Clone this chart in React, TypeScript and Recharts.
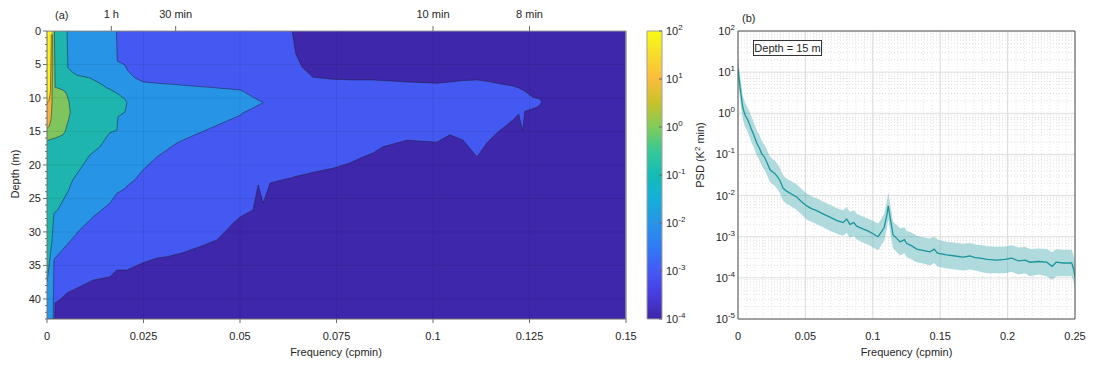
import React from "react";
import {
  ComposedChart,
  Area,
  Line,
  XAxis,
  YAxis,
  CartesianGrid,
  ReferenceLine,
  ReferenceArea,
} from "recharts";

const FONT = '"Liberation Sans", Arial, Helvetica, sans-serif';
const INK = "#262626";
const AXIS = "#6e6e6e";

// ---------- panel (a): filled contours, each band is a [top, bottom] depth range per frequency
const bgFreq = [0, 0.15];
const bgTop = [0, 0];
const bgBottom = [43, 43];

// 1e-3 .. 1e-2
const blueFreq = [
  0, 0.002, 0.0021, 0.0034, 0.0052, 0.0085, 0.0119, 0.0163, 0.0181, 0.0207,
  0.0249, 0.0285, 0.0311, 0.0352, 0.0396, 0.044, 0.0466, 0.0482, 0.05, 0.0534,
  0.0547, 0.056, 0.0578, 0.0611, 0.0635, 0.0645, 0.0661, 0.0689, 0.0741, 0.0785,
  0.0811, 0.0845, 0.087, 0.0933, 0.101, 0.1044, 0.1078, 0.1114, 0.114, 0.1166,
  0.1207, 0.1222, 0.1232, 0.1238, 0.1259, 0.1275, 0.1282,
];
const blueTop = [
  0, 0, 0, 0, 0, 0, 0, 0, 0, 0,
  0, 0, 0, 0, 0, 0, 0, 0, 0, 0,
  0, 0, 0, 0, 0, 3.5, 5.4, 6.9, 7.2, 7.3,
  7.3, 7.3, 7.4, 7.6, 7.8, 7.6, 7.4, 7.3, 7.5, 7.8,
  8.2, 8.5, 8.8, 9.0, 9.9, 10.1, 10.6,
];
const blueBottom = [
  43, 43, 40.6, 40.1, 39.1, 38.2, 37.2, 36.7, 35.7, 35.7,
  34.6, 33.9, 33.7, 33.1, 32.2, 31.2, 29.7, 28.7, 27.8, 26.7,
  23.0, 25.7, 22.7, 22.2, 21.9, 21.7, 21.5, 21.1, 20.5, 19.7,
  19.0, 18.2, 17.3, 16.3, 16.6, 15.5, 16.3, 18.8, 16.7, 15.2,
  13.3, 12.4, 14.9, 12.0, 11.6, 11.2, 10.6,
];

// 1e-2 .. 1e-1
const lightFreq = [
  0, 0.0016, 0.0018, 0.0021, 0.0052, 0.0085, 0.0119, 0.0163, 0.018, 0.0182,
  0.02, 0.021, 0.0228, 0.0249, 0.0285, 0.0337, 0.0352, 0.0396, 0.042, 0.05,
  0.0508, 0.0534, 0.056,
];
const lightTop = [
  0, 0, 0, 0, 0, 0, 0, 0, 0, 4.5,
  5.0, 6.0, 7.0, 7.6, 7.8, 8.0, 8.1, 8.3, 8.4, 8.8,
  9.0, 9.9, 10.7,
];
const lightBottom = [
  43, 43, 34.2, 33.9, 31.9, 29.7, 27.8, 25.7, 24.3, 24.2,
  23.6, 23.0, 22.2, 20.7, 18.8, 16.7, 16.3, 15.2, 14.6, 12.6,
  12.2, 11.5, 10.7,
];

// 1e-1 .. 1e0
const tealFreq = [
  0, 0.0005, 0.0013, 0.0018, 0.0028, 0.0052, 0.0054, 0.0067, 0.0078, 0.0085,
  0.0111, 0.0137, 0.0155, 0.0163, 0.0181, 0.0184, 0.0202, 0.0207,
];
const tealTop = [0, 0, 0, 0, 0, 0, 5.5, 6.2, 6.6, 6.7, 7.0, 7.8, 8.5, 8.7, 9.3, 9.4, 10.2, 10.7];
const tealBottom = [
  37.5, 35.2, 31.2, 27.2, 26.7, 24.2, 24.0, 22.2, 21.3, 20.7,
  18.5, 17.3, 15.8, 15.2, 14.8, 12.8, 12.1, 10.7,
];

// 1e0 .. 1e1
const greenFreq = [0, 0.0003, 0.0014, 0.0019, 0.0021, 0.0041, 0.0047, 0.0052, 0.0057, 0.006];
const greenTop = [0, 0, 0, 0, 8.4, 8.8, 9.1, 9.6, 10.6, 12.1];
const greenBottom = [16.5, 16.3, 16.1, 16.0, 16.0, 15.5, 15.0, 14.0, 13.0, 12.1];

// 1e1 .. 1e2
const orangeFreq = [0, 0.0006, 0.0011, 0.0013, 0.0014];
const orangeTop = [0, 0, 0, 0, 0];
const orangeBottom = [14.5, 14.2, 13.0, 10.5, 0.5];

// > 1e2
const yellowFreq = [0, 0.0005, 0.0009, 0.0011];
const yellowTop = [0, 0, 0, 0];
const yellowBottom = [10.8, 10.4, 9.0, 0.5];

const freqTicksA = [0, 0.025, 0.05, 0.075, 0.1, 0.125, 0.15];
const periodTickValues = [1 / 60, 1 / 30, 0.1, 0.125];
const periodTickLabels = ["1 h", "30 min", "10 min", "8 min"];
const depthTicks = Array.from({ length: 44 }, (_, i) => i);
const gridDepths = [5, 10, 15, 20, 25, 30, 35, 40];

// ---------- panel (b): PSD at 15 m with confidence band
const psdFreq = [
  0, 0.0015, 0.0035, 0.0052, 0.0074, 0.0102, 0.012, 0.0139, 0.016, 0.0176,
  0.02, 0.0218, 0.0237, 0.0255, 0.0274, 0.0295, 0.0312, 0.0334, 0.036, 0.04,
  0.0435, 0.047, 0.051, 0.0545, 0.0584, 0.063, 0.0682, 0.073, 0.078, 0.0806,
  0.083, 0.086, 0.088, 0.0927, 0.097, 0.1001, 0.1039, 0.106, 0.1085, 0.1103,
  0.1115, 0.1128, 0.115, 0.118, 0.1202, 0.1235, 0.1251, 0.129, 0.1326, 0.138,
  0.1424, 0.1455, 0.148, 0.1548, 0.161, 0.1669, 0.172, 0.176, 0.1795, 0.185,
  0.1919, 0.198, 0.203, 0.208, 0.213, 0.2166, 0.223, 0.229, 0.233, 0.236,
  0.2411, 0.2476, 0.249, 0.25,
];
const psdValue = [
  12, 4.4, 1.4, 0.92, 0.68, 0.39, 0.28, 0.19, 0.14, 0.105,
  0.082, 0.06, 0.043, 0.038, 0.034, 0.028, 0.023, 0.0152, 0.0128, 0.0108,
  0.0092, 0.0072, 0.0056, 0.0048, 0.0043, 0.0036, 0.003, 0.0025, 0.0022, 0.0027,
  0.002, 0.0022, 0.0018, 0.00155, 0.00135, 0.00118, 0.001, 0.00125, 0.0017, 0.0032,
  0.0056, 0.003, 0.0011, 0.0009, 0.00075, 0.00085, 0.00068, 0.0006, 0.0005, 0.00046,
  0.00043, 0.0005, 0.0004, 0.00036, 0.00034, 0.00032, 0.00034, 0.00031, 0.0003, 0.00028,
  0.00027, 0.00028, 0.0003, 0.00026, 0.00027, 0.00024, 0.00025, 0.00024, 0.00019, 0.00024,
  0.00023, 0.00023, 0.00016, 0.000105,
];
const psdLower = [
  6, 2.2, 0.72, 0.47, 0.34, 0.19, 0.14, 0.095, 0.07, 0.052,
  0.04, 0.03, 0.021, 0.019, 0.017, 0.0138, 0.0113, 0.0075, 0.0063, 0.0053,
  0.0045, 0.0035, 0.0026, 0.0023, 0.002, 0.0017, 0.0014, 0.0012, 0.00105, 0.00125,
  0.00095, 0.00105, 0.00085, 0.00072, 0.00063, 0.00055, 0.00047, 0.0006, 0.0008, 0.0015,
  0.0026, 0.0014, 0.00052, 0.00042, 0.00035, 0.0004, 0.00032, 0.00028, 0.00024, 0.00022,
  0.0002, 0.00023, 0.00019, 0.00017, 0.00016, 0.00015, 0.00016, 0.00015, 0.00014, 0.00013,
  0.00013, 0.00013, 0.00014, 0.00012, 0.00013, 0.00011, 0.00012, 0.00011, 0.00009, 0.00011,
  0.00011, 0.00011, 0.00008, 0.00005,
];
const psdUpper = [
  22, 8.5, 2.7, 1.8, 1.35, 0.8, 0.56, 0.39, 0.29, 0.215,
  0.165, 0.122, 0.088, 0.078, 0.069, 0.057, 0.047, 0.031, 0.026, 0.022,
  0.0185, 0.0146, 0.0112, 0.0096, 0.0086, 0.0072, 0.006, 0.005, 0.0044, 0.0052,
  0.004, 0.0044, 0.0036, 0.0031, 0.0027, 0.0024, 0.0021, 0.0026, 0.0036, 0.0068,
  0.012, 0.0064, 0.0023, 0.0019, 0.0016, 0.0017, 0.0014, 0.00125, 0.00105, 0.00096,
  0.0009, 0.001, 0.00085, 0.00075, 0.00071, 0.00067, 0.0007, 0.00065, 0.00063, 0.00059,
  0.00057, 0.00058, 0.00062, 0.00055, 0.00056, 0.0005, 0.00052, 0.0005, 0.00042, 0.0005,
  0.00048, 0.00048, 0.00035, 0.00022,
];

const freqTicksB = [0, 0.05, 0.1, 0.15, 0.2, 0.25];
const psdTicks = [1e-5, 1e-4, 1e-3, 1e-2, 1e-1, 1, 10, 100];
const cbarTicks = [1e-4, 1e-3, 1e-2, 1e-1, 1, 10, 100];

const minorY = psdTicks.slice(0, -1).flatMap((d) => [2, 3, 4, 5, 6, 7, 8, 9].map((k) => k * d));
const minorX = Array.from({ length: 39 }, (_, i) => (i + 1) * 0.00625);

// parula, bottom (1e-4) to top (1e2)
const parulaStops = [
  [0, "#3e26a8"], [0.1, "#4741e5"], [0.167, "#4559f4"], [0.25, "#2f7bf5"],
  [0.333, "#2794e6"], [0.42, "#15afd8"], [0.5, "#14bcb6"], [0.583, "#37c897"],
  [0.667, "#80cc59"], [0.75, "#c7c22a"], [0.833, "#fbbc3d"], [0.917, "#f7db2b"], [1, "#f9fb14"],
];

const toRows = (f: number[], top: number[], bottom: number[]) =>
  f.map((v, i) => ({ f: v, depth: [top[i], bottom[i]] }));

const bands = [
  { key: "bg", color: "#3e27aa", edge: false, rows: toRows(bgFreq, bgTop, bgBottom) },
  { key: "b3", color: "#4459f2", edge: true, rows: toRows(blueFreq, blueTop, blueBottom) },
  { key: "b2", color: "#2794e6", edge: true, rows: toRows(lightFreq, lightTop, lightBottom) },
  { key: "b1", color: "#1db5ad", edge: true, rows: toRows(tealFreq, tealTop, tealBottom) },
  { key: "b0", color: "#7fc45c", edge: true, rows: toRows(greenFreq, greenTop, greenBottom) },
  { key: "p1", color: "#f6b13a", edge: true, rows: toRows(orangeFreq, orangeTop, orangeBottom) },
  { key: "p2", color: "#f8f11c", edge: true, rows: toRows(yellowFreq, yellowTop, yellowBottom) },
];

const psdRows = psdFreq.map((f, i) => ({
  f,
  psd: psdValue[i],
  band: [psdLower[i], psdUpper[i]],
}));

const DepthTick = (props: any) => {
  const { x, y, payload } = props;
  const major = payload.value % 5 === 0;
  return (
    <g>
      <line x1={x} x2={x - (major ? 4 : 2)} y1={y} y2={y} stroke={AXIS} />
      {major && (
        <text x={x - 6} y={y + 4} textAnchor="end" fontFamily={FONT} fontSize={11} fill={INK}>
          {payload.value}
        </text>
      )}
    </g>
  );
};

const PeriodTick = (props: any) => {
  const { x, y, payload } = props;
  const i = periodTickValues.findIndex((v) => Math.abs(v - payload.value) < 1e-9);
  return (
    <g>
      <line x1={x} x2={x} y1={y + 13} y2={y + 8} stroke={AXIS} />
      <text x={x} y={y} textAnchor="middle" fontFamily={FONT} fontSize={11} fill={INK}>
        {periodTickLabels[i]}
      </text>
    </g>
  );
};

const PowTick = (props: any) => {
  const { x, y, payload, textAnchor, inward } = props;
  const e = Math.round(Math.log10(payload.value));
  return (
    <g>
      {inward && <line x1={x - 4} x2={x - 7} y1={y} y2={y} stroke="#666" />}
      <text x={x} y={y + 4} textAnchor={textAnchor} fontFamily={FONT} fontSize={11} fill={INK}>
        10<tspan dy={-5} fontSize={8}>{e}</tspan>
      </text>
    </g>
  );
};

const Title = (props: any) => {
  const { px, py, rot, text } = props;
  return (
    <text
      x={px}
      y={py}
      transform={rot ? `rotate(-90 ${px} ${py})` : undefined}
      textAnchor="middle"
      fontFamily={FONT}
      fontSize={11}
      fill={INK}
    >
      {text}
    </text>
  );
};

const PsdTitle = (props: any) => {
  const { px, py } = props;
  return (
    <text x={px} y={py} transform={`rotate(-90 ${px} ${py})`} textAnchor="middle" fontFamily={FONT} fontSize={11} fill={INK}>
      PSD (K<tspan dy={-4} fontSize={8}>2</tspan>
      <tspan dy={4}> min)</tspan>
    </text>
  );
};

const tickStyle = { fontSize: 11, fill: INK, fontFamily: FONT };

export default function App() {
  return (
    <div style={{ position: "absolute", left: 0, top: 0, width: 1094, height: 368, background: "#fff", fontFamily: FONT }}>
      {/* (a) contour map */}
      <div style={{ position: "absolute", left: 0, top: 0 }}>
        <ComposedChart width={640} height={368} margin={{ top: 10, right: 14, bottom: 9, left: 10 }}>
          {bands.map((b) => (
            <Area
              key={b.key}
              data={b.rows}
              dataKey="depth"
              type="linear"
              fill={b.color}
              fillOpacity={1}
              stroke={b.edge ? "#1d1d33" : "none"}
              strokeWidth={0.6}
              strokeOpacity={0.85}
              dot={false}
              activeDot={false}
              isAnimationActive={false}
            />
          ))}
          {freqTicksA.slice(1, -1).map((v) => (
            <ReferenceLine key={`gx${v}`} x={v} stroke="rgba(0,0,0,0.13)" strokeWidth={0.6} />
          ))}
          {gridDepths.map((v) => (
            <ReferenceLine key={`gy${v}`} y={v} stroke="rgba(0,0,0,0.13)" strokeWidth={0.6} />
          ))}
          <ReferenceLine x={0.15} stroke="#9a9a9a" />
          <ReferenceLine xAxisId="top" x={0.15} stroke="#9a9a9a" />
          <XAxis
            dataKey="f"
            type="number"
            domain={[0, 0.15]}
            allowDataOverflow
            ticks={freqTicksA}
            interval={0}
            tickFormatter={(v) => String(v)}
            height={40}
            tickSize={4}
            tickMargin={9}
            stroke={AXIS}
            tick={tickStyle}
            label={<Title px={336} py={356} text="Frequency (cpmin)" />}
          />
          <XAxis
            xAxisId="top"
            dataKey="f"
            orientation="top"
            type="number"
            domain={[0, 0.15]}
            allowDataOverflow
            ticks={periodTickValues}
            interval={0}
            height={21}
            tickSize={0}
            tickMargin={13}
            tickLine={false}
            stroke="#9a9a9a"
            tick={<PeriodTick />}
          />
          <YAxis
            type="number"
            domain={[0, 43]}
            allowDataOverflow
            reversed
            ticks={depthTicks}
            interval={0}
            width={37}
            tickSize={0}
            tickMargin={0}
            tickLine={false}
            stroke={AXIS}
            tick={<DepthTick />}
            label={<Title px={19} py={174} rot text="Depth (m)" />}
          />
        </ComposedChart>
      </div>

      {/* colorbar */}
      <div style={{ position: "absolute", left: 640, top: 0 }}>
        <ComposedChart width={50} height={368} data={[{ x: 0 }, { x: 1 }]} margin={{ top: 31, right: 0, bottom: 49, left: 7 }}>
          <defs>
            <linearGradient id="parula" x1="0" y1="1" x2="0" y2="0">
              {parulaStops.map(([o, c]) => (
                <stop key={String(o)} offset={o as number} stopColor={c as string} />
              ))}
            </linearGradient>
          </defs>
          <XAxis dataKey="x" type="number" domain={[0, 1]} hide />
          <YAxis
            orientation="right"
            scale="log"
            type="number"
            domain={[1e-4, 100]}
            ticks={cbarTicks}
            interval={0}
            allowDataOverflow
            width={28}
            tickSize={0}
            tickMargin={4}
            axisLine={false}
            tickLine={false}
            tick={<PowTick inward />}
          />
          <ReferenceArea x1={0} x2={1} y1={1e-4} y2={100} fill="url(#parula)" fillOpacity={1} stroke="#a0a0a0" strokeWidth={1} />
        </ComposedChart>
      </div>

      {/* (b) spectrum */}
      <div style={{ position: "absolute", left: 690, top: 0 }}>
        <ComposedChart width={404} height={368} margin={{ top: 31, right: 19, bottom: 9, left: 0 }}>
          <CartesianGrid stroke="#dedede" />
          {minorY.map((v) => (
            <ReferenceLine key={`my${v}`} y={v} stroke="#cdcdcd" strokeWidth={0.6} strokeDasharray="1 2" />
          ))}
          {minorX.map((v) => (
            <ReferenceLine key={`mx${v}`} x={v} stroke="#d4d4d4" strokeWidth={0.6} strokeDasharray="1 2" />
          ))}
          <Area
            data={psdRows}
            dataKey="band"
            type="linear"
            fill="#2aa1a8"
            fillOpacity={0.38}
            stroke="none"
            isAnimationActive={false}
            activeDot={false}
          />
          <Line
            data={psdRows}
            dataKey="psd"
            type="linear"
            stroke="#1b959c"
            strokeWidth={1.3}
            dot={false}
            activeDot={false}
            isAnimationActive={false}
          />
          <ReferenceLine y={100} stroke="#555" />
          <ReferenceLine x={0.25} stroke="#555" />
          <XAxis
            dataKey="f"
            type="number"
            domain={[0, 0.25]}
            allowDataOverflow
            ticks={freqTicksB}
            interval={0}
            tickFormatter={(v) => String(v)}
            height={40}
            tickSize={0}
            tickMargin={13}
            tickLine={false}
            stroke="#555"
            tick={tickStyle}
            label={<Title px={216.5} py={356} text="Frequency (cpmin)" />}
          />
          <YAxis
            scale="log"
            type="number"
            domain={[1e-5, 100]}
            ticks={psdTicks}
            interval={0}
            allowDataOverflow
            width={48}
            tickSize={0}
            tickMargin={3}
            tickLine={false}
            stroke="#555"
            tick={<PowTick />}
            label={<PsdTitle px={14} py={155} />}
          />
        </ComposedChart>
      </div>

      <div style={{ position: "absolute", left: 55, top: 9, fontSize: 11, lineHeight: "13px", color: INK }}>(a)</div>
      <div style={{ position: "absolute", left: 742, top: 12, fontSize: 11, lineHeight: "13px", color: INK }}>(b)</div>
      <div
        style={{
          position: "absolute",
          left: 753,
          top: 40,
          width: 69,
          height: 16,
          boxSizing: "border-box",
          border: "1px solid #333",
          background: "#fff",
          fontSize: 11,
          lineHeight: "14px",
          textAlign: "center",
          color: INK,
        }}
      >
        Depth = 15 m
      </div>
    </div>
  );
}
